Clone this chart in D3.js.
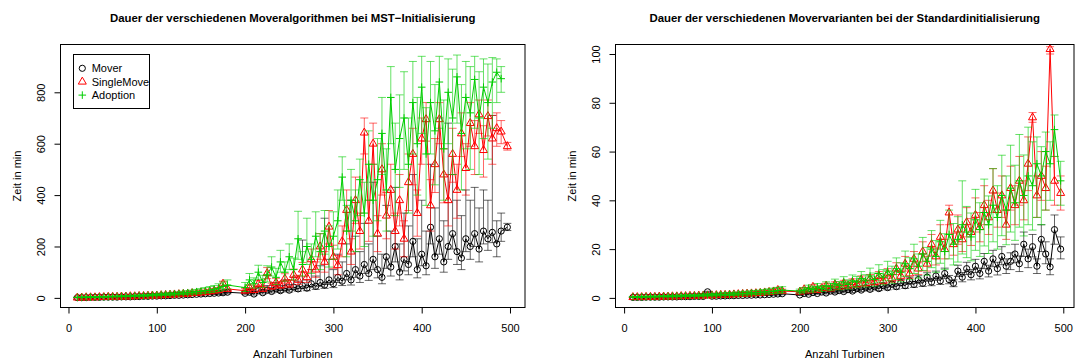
<!DOCTYPE html>
<html>
<head>
<meta charset="utf-8">
<script src="https://cdn.jsdelivr.net/npm/d3@7"></script>
<style>
  body { margin: 0; background: #fff; }
  svg { display: block; font-family: "Liberation Sans", Arial, Helvetica, sans-serif; }
</style>
</head>
<body>
<svg id="chart" width="1076" height="360"></svg>
<script>
// x values: number of turbines
const turbines = [10,15,20,25,30,35,40,45,50,55,60,65,70,75,80,85,90,95,100,105,
  110,115,120,125,130,135,140,145,150,155,160,165,170,175,180,
  200,205,210,215,220,225,230,235,240,245,
  250,255,260,265,270,275,280,285,290,295,
  300,305,310,315,320,325,330,335,340,345,
  350,355,360,365,370,375,380,385,390,395,
  400,405,410,415,420,425,430,435,440,445,
  450,455,460,465,470,475,480,485,490,497];

// ---- left panel: MST initialisation (minutes) ----
const mstMover = [1,1,1,2,2,2,3,3,3,3,4,4,4,5,5,6,6,7,7,8,
  8,9,10,10,11,12,13,14,15,16,17,18,19,20,22,
  18,22,15,28,20,30,25,35,28,38,
  30,42,35,48,38,55,45,60,50,70,
  55,80,65,95,70,110,85,130,95,150,
  110,80,160,120,200,100,150,130,220,110,
  170,125,275,160,230,140,200,250,180,155,
  230,200,250,190,260,230,255,210,260,275];
const mstMoverLo = [0,0,0,1,1,1,2,2,2,2,3,3,3,4,4,4,4,5,5,6,
  6,7,7,7,8,9,9,10,11,12,12,13,14,14,16,
  14,17,11,22,15,23,19,27,21,29,
  23,32,26,36,28,42,33,45,37,52,
  40,60,48,70,50,80,60,95,68,110,
  78,55,115,85,140,70,105,90,160,78,
  125,90,210,115,170,100,150,190,130,110,
  180,150,200,140,210,185,215,160,220,262];
const mstMoverHi = [2,2,2,3,3,3,4,4,5,5,5,6,6,7,7,8,8,9,9,10,
  11,12,13,13,14,16,17,18,20,21,22,24,25,28,30,
  26,34,24,45,32,48,40,60,48,70,
  52,80,65,225,70,110,85,125,310,150,
  110,170,140,210,380,240,180,290,210,450,
  240,170,360,260,430,210,330,280,480,230,
  380,260,520,350,700,300,680,480,380,320,
  420,380,430,350,420,380,710,300,330,290];

const mstSingle = [1,1,2,2,2,3,3,4,4,4,5,5,6,6,7,7,8,9,9,10,
  11,12,13,14,15,16,18,19,21,22,25,28,30,55,35,
  28,40,30,55,35,96,45,60,50,75,
  55,90,70,110,80,150,110,200,140,277,
  160,127,220,342,180,380,260,643,300,600,
  250,500,320,420,260,380,230,450,560,330,
  620,695,360,520,695,480,380,560,420,640,
  505,680,590,714,575,707,620,660,647,590];
const mstSingleLo = [0,0,1,1,1,2,2,3,3,3,4,4,4,4,5,5,6,6,7,7,
  8,9,9,10,11,12,13,14,15,16,18,20,22,45,25,
  20,30,22,42,26,75,33,45,37,57,
  40,68,52,82,60,110,80,150,100,210,
  115,90,160,260,130,290,190,560,220,520,
  180,400,230,320,190,280,160,340,440,240,
  520,610,260,410,600,370,280,450,310,550,
  400,590,480,640,470,630,520,590,600,575];
const mstSingleHi = [2,2,3,3,3,4,4,5,5,6,6,7,8,8,9,9,10,12,12,13,
  14,15,17,18,20,21,23,25,27,29,32,36,40,65,48,
  36,50,38,68,44,118,57,76,63,94,
  70,112,88,138,100,190,140,250,180,340,
  205,165,280,420,230,470,330,700,380,680,
  320,600,410,520,330,480,300,560,660,420,
  700,760,460,620,760,580,480,660,520,720,
  600,760,690,770,670,770,710,720,690,605];

const mstAdopt = [2,2,3,3,3,4,4,5,5,6,6,7,7,8,9,9,10,11,12,13,
  14,15,16,17,19,20,22,24,26,28,30,34,38,45,50,
  40,70,55,100,60,90,120,80,140,100,
  160,110,230,130,200,150,240,180,260,200,
  240,300,470,260,380,300,460,330,520,380,
  460,640,420,780,500,620,700,520,760,600,
  820,560,760,650,840,580,800,700,860,640,
  780,720,850,700,820,760,840,878,853,null];
const mstAdoptLo = [1,1,2,2,2,3,3,3,4,4,4,5,5,6,6,6,7,8,8,9,
  10,10,11,12,13,14,15,16,18,19,21,23,26,30,35,
  25,50,38,72,40,62,85,52,100,65,
  110,70,150,85,130,95,160,110,170,120,
  150,190,380,160,260,180,320,200,380,240,
  300,480,260,600,320,430,500,330,560,400,
  640,360,560,440,660,380,600,480,680,420,
  580,500,660,480,620,540,660,760,800,null];
const mstAdoptHi = [3,3,4,5,5,6,6,7,7,8,9,9,10,11,12,13,14,15,16,18,
  19,20,22,24,26,28,30,33,36,40,44,48,55,62,70,
  60,95,78,127,88,125,160,115,185,140,
  210,155,337,180,310,210,335,250,340,280,
  335,420,549,360,500,420,540,450,650,520,
  620,780,580,900,680,790,880,700,920,780,
  940,740,920,830,940,770,930,890,945,830,
  920,900,940,880,930,910,935,930,900,null];

// ---- right panel: standard initialisation (minutes) ----
const stdMover = [0.2,0.2,0.2,0.3,0.3,0.3,0.3,0.4,0.4,0.4,0.4,0.5,0.5,0.5,0.6,0.6,0.6,2.5,0.7,0.7,
  0.8,0.8,0.9,0.9,1.0,1.0,1.1,1.1,1.2,1.2,1.3,1.4,1.5,1.6,1.7,
  1.2,1.8,1.5,2.2,1.8,2.4,2.0,2.8,2.4,3.0,
  2.6,3.4,2.8,3.8,3.2,4.2,3.5,4.6,3.8,5.0,
  4.2,5.6,4.6,6.2,5.0,7.0,5.5,7.5,6.0,8.5,
  6.5,9.0,7.0,10,7.5,6.0,11,8.5,12,9.5,
  13,10,15,11,16,12,17,13,15,18,
  14,22,16,21,13,24,18,12.7,28,20];
const stdMoverLo = [0.1,0.1,0.1,0.2,0.2,0.2,0.2,0.3,0.3,0.3,0.3,0.4,0.4,0.4,0.4,0.4,0.4,2.3,0.5,0.5,
  0.6,0.6,0.7,0.7,0.8,0.8,0.8,0.8,0.9,0.9,1.0,1.0,1.1,1.2,1.3,
  1.0,1.5,1.2,1.8,1.5,2.0,1.6,2.3,1.9,2.4,
  2.1,2.8,2.2,3.1,2.6,3.4,2.8,3.7,3.0,4.0,
  3.3,4.5,3.6,5.0,3.9,5.6,4.3,6.0,4.7,6.8,
  5.0,7.2,5.5,8.0,5.8,4.6,8.8,6.6,9.6,7.4,
  10.4,7.8,12,8.6,12.8,9.4,13.6,10,11.6,14.4,
  10.8,17,12.4,16.8,10,19,14,9.5,22,16];
const stdMoverHi = [0.3,0.3,0.3,0.4,0.4,0.4,0.4,0.5,0.5,0.5,0.6,0.6,0.7,0.7,0.8,0.8,0.8,2.7,0.9,0.9,
  1.0,1.0,1.1,1.2,1.3,1.3,1.4,1.5,1.6,1.6,1.7,1.8,2.0,2.1,2.3,
  1.5,2.2,1.9,2.7,2.2,3.0,2.5,3.4,3.0,3.7,
  3.2,4.1,3.5,4.6,4.0,5.1,4.4,5.6,4.7,6.1,
  5.2,6.8,5.7,7.5,6.2,8.5,6.8,9.1,7.4,10.3,
  8.0,11,8.6,12.2,9.2,7.4,13.4,10.4,14.6,11.6,
  15.8,12.2,18.2,13.4,19.5,14.6,21,16,18.5,22,
  17.2,27,20,26,16,30,23,16,34,25];

const stdSingle = [0.3,0.3,0.3,0.4,0.4,0.4,0.5,0.5,0.5,0.6,0.6,0.7,0.7,0.8,0.8,0.9,0.9,1.0,1.0,1.1,
  1.2,1.2,1.3,1.4,1.5,1.6,1.7,1.8,1.9,2.0,2.2,2.4,2.6,3.2,2.8,
  2.5,3.5,3.0,4.5,3.2,4.0,5.0,3.8,5.5,4.5,
  6.0,5.0,6.5,5.5,7.5,6.0,8.0,6.5,9.0,7.0,
  10,8.0,12,9.0,14,10,16,12,19,14,
  22,17,25,20,35,22,28,24,31,27,
  34,29,38,33,44,36,42,30,45,38,
  48,40,55,74,42,50,45,102,48,43];
const stdSingleLo = [0.2,0.2,0.2,0.3,0.3,0.3,0.3,0.4,0.4,0.4,0.4,0.5,0.5,0.6,0.6,0.6,0.6,0.7,0.7,0.8,
  0.9,0.9,1.0,1.0,1.1,1.2,1.3,1.3,1.4,1.5,1.6,1.8,1.9,2.4,2.1,
  2.0,2.8,2.4,3.6,2.5,3.2,4.0,3.0,4.4,3.6,
  4.8,4.0,5.2,4.4,6.0,4.8,6.4,5.2,7.2,5.6,
  8.0,6.4,9.6,7.2,11,8.0,12.8,9.6,15,11,
  17.5,13.5,20,16,30,17.5,22,19,25,21.5,
  27,23,30,26,35,29,33,24,36,30,
  38,32,44,72,33,40,36,100,38,36];
const stdSingleHi = [0.4,0.4,0.4,0.5,0.5,0.6,0.6,0.7,0.7,0.8,0.8,0.9,0.9,1.0,1.1,1.2,1.2,1.3,1.4,1.5,
  1.6,1.6,1.7,1.9,2.0,2.1,2.2,2.4,2.5,2.7,2.9,3.1,3.4,4.0,3.6,
  3.0,4.2,3.6,5.4,3.9,4.8,6.0,4.6,6.6,5.4,
  7.2,6.0,7.8,6.6,9.0,7.2,9.6,7.8,10.8,8.4,
  12,9.6,14.4,10.8,17,12,19,14.4,23,17,
  26,20.5,30,24,38,26.5,34,29,37,32.5,
  41,35,46,40,53,43,50,36,54,46,
  58,48,66,76,50,60,54,103,58,50];

const stdAdopt = [0.4,0.4,0.4,0.5,0.5,0.5,0.6,0.6,0.7,0.7,0.8,0.8,0.9,0.9,1.0,1.0,1.1,1.2,1.2,1.3,
  1.4,1.4,1.5,1.6,1.7,1.8,1.9,2.0,2.1,2.3,2.4,2.6,2.8,3.0,3.2,
  2.8,3.2,4.0,3.5,4.5,3.8,5.0,4.5,5.8,5.0,
  6.5,5.5,7.0,6.5,8.0,7.0,9.0,7.5,10,8.5,
  11,9.5,12,10.5,14,12,16,13,18,15,
  20,17,23,19,26,22,24,30,27,25,
  32,28,35,30,38,33,42,36,45,39,
  48,42,50,46,55,50,60,55,69,48];
const stdAdoptLo = [0.2,0.2,0.2,0.3,0.3,0.3,0.4,0.4,0.4,0.4,0.5,0.5,0.6,0.6,0.6,0.6,0.7,0.8,0.8,0.8,
  0.9,0.9,1.0,1.0,1.1,1.2,1.2,1.3,1.4,1.5,1.6,1.7,1.8,2.0,2.1,
  2.0,2.3,2.8,2.4,3.1,2.6,3.4,3.0,3.9,3.3,
  4.3,3.6,4.6,4.2,5.2,4.5,5.8,4.8,6.4,5.4,
  7.0,6.0,7.6,6.6,8.8,7.5,10,8.1,11.2,9.3,
  12.4,10.5,14.2,11.7,16,13.5,14.7,18,16.5,15.2,
  19.5,17,21.3,18.2,23,20,25.5,21.8,27,23.6,
  29,25.4,30,27.8,33,30,36,40,58,38];
const stdAdoptHi = [0.6,0.6,0.7,0.7,0.8,0.8,0.9,0.9,1.0,1.1,1.1,1.2,1.3,1.3,1.4,1.5,1.6,1.7,1.8,1.9,
  2.0,2.1,2.2,2.3,2.4,2.6,2.7,2.9,3.0,3.2,3.4,3.7,4.0,4.3,4.6,
  3.6,4.2,5.2,4.6,5.9,5.0,6.6,6.0,7.7,6.7,
  8.7,7.4,9.4,8.8,10.8,9.5,12.2,10.2,13.6,11.6,
  15,13,16.4,14.4,19.2,16.5,22,18,24.8,20.7,
  27.6,23.5,31.8,26.3,36,30.5,33.3,48,37.5,34.8,
  44.5,39,48.7,41.8,53,46,58.5,50,62.6,54.4,
  67,58.6,70,64,66,62,68,64,75,56];

const seriesNames = ["Mover", "SingleMove", "Adoption"];
const xTicks = [0, 100, 200, 300, 400, 500];
const mstTicks = [0, 200, 400, 600, 800];
const stdTicks = [0, 20, 40, 60, 80, 100];

const colors = ["#000000", "#ff0000", "#00cd00"];
const shapes = ["circle", "triangle", "plus"];

const svg = d3.select("#chart");
svg.append("rect").attr("width", 1076).attr("height", 360).attr("fill", "#fff");

function drawSymbol(sel, shape, color) {
  if (shape === "circle") {
    sel.append("circle").attr("r", 3.1).attr("fill", "none").attr("stroke", color);
  } else if (shape === "triangle") {
    sel.append("path").attr("d", "M0,-4.6L4,2.4L-4,2.4Z").attr("fill", "none").attr("stroke", color);
  } else {
    sel.append("path").attr("d", "M-3.8,0H3.8M0,-3.8V3.8").attr("fill", "none").attr("stroke", color);
  }
}

function drawPanel(p) {
  const x = d3.scaleLinear().domain(p.xDomain).range([p.left, p.right]);
  const y = d3.scaleLinear().domain(p.yDomain).range([p.bottom, p.top]);
  const g = svg.append("g");

  g.append("clipPath").attr("id", p.id + "-clip")
    .append("rect").attr("x", p.left).attr("y", p.top)
    .attr("width", p.right - p.left).attr("height", p.bottom - p.top);

  const plot = g.append("g").attr("clip-path", `url(#${p.id}-clip)`);

  p.series.forEach((s, k) => {
    const pts = turbines.map((t, i) => ({ t: t, m: s.mean[i], lo: s.lo[i], hi: s.hi[i] }))
      .filter(d => d.m != null);
    const col = colors[k];
    // error bars
    plot.append("g").attr("stroke", col).attr("stroke-opacity", 0.6).attr("fill", "none")
      .selectAll("path").data(pts).join("path")
      .attr("d", d => {
        const cx = x(d.t), y0 = y(d.lo), y1 = y(d.hi);
        return `M${cx},${y0}V${y1}M${cx - 4},${y0}h8M${cx - 4},${y1}h8`;
      });
    // connecting line
    plot.append("path").datum(pts)
      .attr("fill", "none").attr("stroke", col).attr("stroke-width", 1)
      .attr("d", d3.line().x(d => x(d.t)).y(d => y(d.m)));
    // points
    const sym = plot.append("g").selectAll("g").data(pts).join("g")
      .attr("transform", d => `translate(${x(d.t)},${y(d.m)})`);
    drawSymbol(sym, shapes[k], col);
  });

  // box
  g.append("rect").attr("x", p.left).attr("y", p.top)
    .attr("width", p.right - p.left).attr("height", p.bottom - p.top)
    .attr("fill", "none").attr("stroke", "#000");

  // x axis
  const xa = g.append("g").attr("transform", `translate(0,${p.bottom})`)
    .call(d3.axisBottom(x).tickValues(xTicks).tickSize(6).tickSizeOuter(0));
  xa.select(".domain").remove();
  xa.selectAll("text").attr("dy", null).attr("y", 24.5)
    .attr("font-size", 11).attr("font-family", null).attr("fill", "#000");
  xa.selectAll("line").attr("stroke", "#000");

  // y axis
  const ya = g.append("g").attr("transform", `translate(${p.left},0)`)
    .call(d3.axisLeft(y).tickValues(p.yTicks).tickSize(6).tickSizeOuter(0));
  ya.select(".domain").remove();
  ya.selectAll("text").attr("x", null).attr("dy", null)
    .attr("text-anchor", "middle").attr("transform", "translate(-15.5,0) rotate(-90)")
    .attr("font-size", 11).attr("font-family", null).attr("fill", "#000");
  ya.selectAll("line").attr("stroke", "#000");

  // titles
  g.append("text").attr("x", (p.left + p.right) / 2).attr("y", 22)
    .attr("text-anchor", "middle").attr("font-weight", "bold").attr("font-size", 11.4)
    .text(p.title);
  g.append("text").attr("x", (p.left + p.right) / 2).attr("y", 358)
    .attr("text-anchor", "middle").attr("font-size", 11).text("Anzahl Turbinen");
  g.append("text").attr("transform", `translate(${p.left - 39.5},${(p.top + p.bottom) / 2}) rotate(-90)`)
    .attr("text-anchor", "middle").attr("font-size", 11).text("Zeit in min");

  if (p.legend) {
    const lg = g.append("g");
    lg.append("rect").attr("x", 73.5).attr("y", 54.5).attr("width", 76).attr("height", 54)
      .attr("fill", "#fff").attr("stroke", "#000");
    seriesNames.forEach((name, k) => {
      const row = lg.append("g").attr("transform", `translate(82.3,${68.3 + k * 13.4})`);
      drawSymbol(row, shapes[k], colors[k]);
      row.append("text").attr("x", 9.4).attr("dy", "0.35em").attr("font-size", 11).text(name);
    });
  }
}

drawPanel({
  id: "mst", left: 60.5, right: 525, top: 44.5, bottom: 307.5,
  xDomain: [-9.06, 517], yDomain: [-37.4, 986], yTicks: mstTicks,
  title: "Dauer der verschiedenen Moveralgorithmen bei MST\u2212Initialisierung",
  legend: true,
  series: [
    { mean: mstMover, lo: mstMoverLo, hi: mstMoverHi },
    { mean: mstSingle, lo: mstSingleLo, hi: mstSingleHi },
    { mean: mstAdopt, lo: mstAdoptLo, hi: mstAdoptHi }
  ]
});

drawPanel({
  id: "std", left: 615.5, right: 1074, top: 44.5, bottom: 307.5,
  xDomain: [-9.8, 512.2], yDomain: [-3.94, 103.9], yTicks: stdTicks,
  title: "Dauer der verschiedenen Movervarianten bei der Standardinitialisierung",
  legend: false,
  series: [
    { mean: stdMover, lo: stdMoverLo, hi: stdMoverHi },
    { mean: stdSingle, lo: stdSingleLo, hi: stdSingleHi },
    { mean: stdAdopt, lo: stdAdoptLo, hi: stdAdoptHi }
  ]
});
</script>
</body>
</html>
